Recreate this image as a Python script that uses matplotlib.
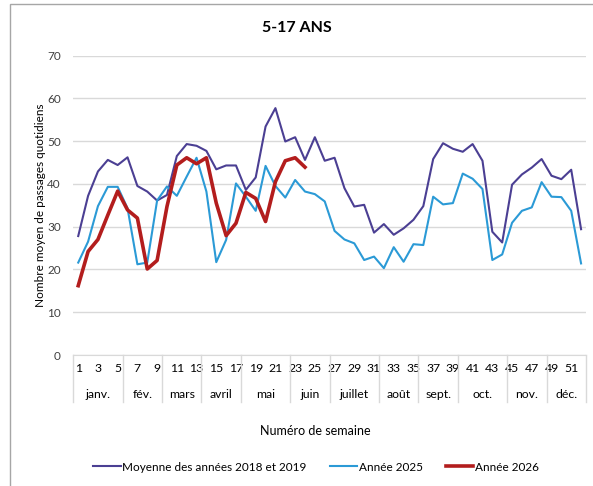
import matplotlib.pyplot as plt
from matplotlib.lines import Line2D
from matplotlib.patches import Rectangle

plt.rcParams['font.family'] = ['Lato', 'DejaVu Sans']

# semaines 1..52
weeks = list(range(1, 53))

moyenne_2018_2019 = [27.8, 37.2, 42.9, 45.6, 44.4, 46.2, 39.5, 38.2, 36.1, 37.4,
                     46.5, 49.3, 48.9, 47.7, 43.4, 44.3, 44.3, 38.6, 41.5, 53.4,
                     57.7, 49.9, 50.9, 45.6, 50.9, 45.4, 46.1, 39.0, 34.7, 35.1,
                     28.6, 30.6, 28.1, 29.6, 31.6, 34.8, 45.8, 49.5, 48.2, 47.5,
                     49.3, 45.4, 28.8, 26.3, 39.8, 42.2, 43.8, 45.8, 41.9, 41.1,
                     43.3, 29.4]

annee_2025 = [21.6, 26.5, 34.8, 39.3, 39.3, 34.3, 21.2, 21.6, 36.1, 39.4,
              37.2, 41.7, 46.1, 38.2, 21.7, 26.9, 40.1, 37.0, 33.7, 44.2,
              39.5, 36.8, 40.9, 38.2, 37.6, 35.9, 29.0, 27.0, 26.1, 22.2,
              23.0, 20.3, 25.2, 21.8, 25.9, 25.7, 37.0, 35.2, 35.5, 42.4,
              41.2, 38.8, 22.2, 23.5, 30.9, 33.7, 34.5, 40.4, 37.0, 36.9,
              33.7, 21.4]

annee_2026 = [16.2, 24.2, 27.0, 32.7, 38.3, 33.9, 32.0, 20.1, 22.1, 34.7,
              44.4, 46.1, 44.7, 46.1, 35.5, 27.9, 30.8, 38.0, 36.6, 31.2,
              40.5, 45.4, 46.1, 43.9]

months = ['janv.', 'fév.', 'mars', 'avril', 'mai', 'juin', 'juillet',
          'août', 'sept.', 'oct.', 'nov.', 'déc.']
month_weeks = [5, 4, 4, 4, 5, 4, 5, 4, 4, 5, 4, 4]

c_moy = '#4B3F93'
c_25 = '#2B9AD6'
c_26 = '#B31D1D'
grid_c = '#D9D9D9'

W, H = 593, 486
fig = plt.figure(figsize=(W / 100, H / 100), dpi=100)
fig.patches.append(Rectangle((10 / W, -0.1), 1.2, 1 - 4 / H + 0.1,
                             transform=fig.transFigure, fill=False,
                             edgecolor='#A6A6A6', lw=1.0))

ax = fig.add_axes([73.3 / W, 1 - 355 / H, (586 - 73.3) / W, (355 - 55.5) / H])
ax.plot(weeks, moyenne_2018_2019, color=c_moy, lw=1.5, label='Moyenne des années 2018 et 2019')
ax.plot(weeks, annee_2025, color=c_25, lw=1.5, label='Année 2025')
ax.plot(weeks[:len(annee_2026)], annee_2026, color=c_26, lw=2.6, label='Année 2026')

ax.set_xlim(0.5, 52.5)
ax.set_ylim(0, 70)
ax.set_yticks(range(0, 71, 10))
ax.yaxis.grid(True, color=grid_c, lw=1.0)
ax.set_axisbelow(True)
for s in ['top', 'right', 'left']:
    ax.spines[s].set_visible(False)
ax.spines['bottom'].set_color(grid_c)
ax.tick_params(axis='y', length=0, pad=9, labelsize=8.5, colors='#404040')
ax.set_xticks(range(1, 53, 2))
ax.tick_params(axis='x', length=0, pad=6, labelsize=8.8, colors='#000000')

# séparateurs et mois
bounds = [0]
for n in month_weeks:
    bounds.append(bounds[-1] + n)
trans = ax.get_xaxis_transform()
for b in bounds:
    ax.plot([b + 0.5, b + 0.5], [0, -47 / 299.5], transform=trans,
            color=grid_c, lw=1.0, clip_on=False)
for i, m in enumerate(months):
    xc = (bounds[i] + bounds[i + 1]) / 2 + 0.5
    ax.text(xc, -39 / 299.5, m, transform=trans, ha='center', va='center',
            fontsize=8.8)

ax.set_ylabel('Nombre moyen de passages quotidiens', fontsize=8.5, labelpad=1)
fig.text(315 / W, 1 - 431 / H, 'Numéro de semaine', ha='center', va='center', fontsize=9)
fig.text(297 / W, 1 - 28 / H, '5-17 ANS', ha='center', va='center',
         fontsize=11.5, fontweight='bold')

handles = [Line2D([], [], color=c_moy, lw=1.5),
           Line2D([], [], color=c_25, lw=1.5),
           Line2D([], [], color=c_26, lw=2.6)]
labels = ['Moyenne des années 2018 et 2019', 'Année 2025', 'Année 2026']
fig.legend(handles, labels, loc='center', bbox_to_anchor=(316 / W, 1 - 467 / H),
           ncol=3, frameon=False, fontsize=8.5, handlelength=2.3,
           handletextpad=0.15, columnspacing=1.95)

fig.savefig('out.png', dpi=100)
